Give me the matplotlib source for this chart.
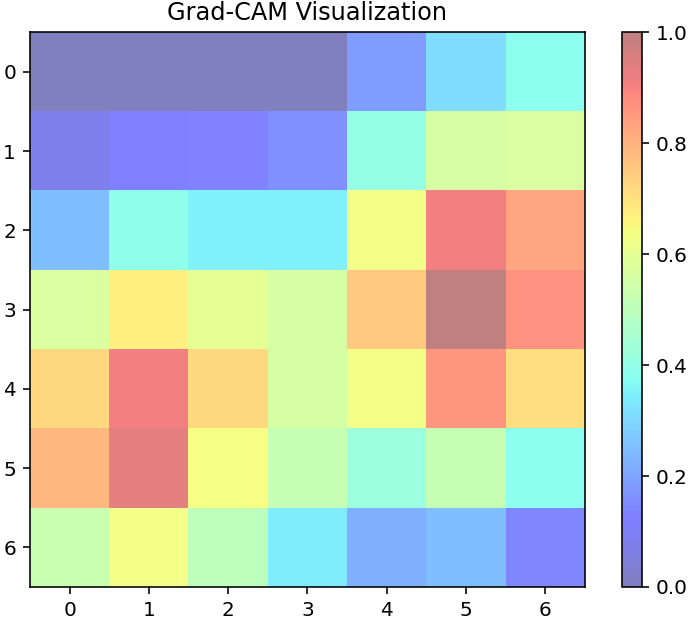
import numpy as np
import matplotlib
matplotlib.use("Agg")
import matplotlib.pyplot as plt

# heatmap values (rows 0..6, cols 0..6)
row0 = [0.00, 0.00, 0.00, 0.00, 0.18, 0.31, 0.38]
row1 = [0.08, 0.12, 0.13, 0.16, 0.40, 0.56, 0.57]
row2 = [0.25, 0.39, 0.35, 0.35, 0.63, 0.91, 0.83]
row3 = [0.57, 0.67, 0.60, 0.56, 0.75, 1.00, 0.87]
row4 = [0.72, 0.91, 0.72, 0.56, 0.63, 0.86, 0.71]
row5 = [0.79, 0.93, 0.64, 0.52, 0.42, 0.52, 0.38]
row6 = [0.53, 0.63, 0.50, 0.34, 0.22, 0.25, 0.14]

cam = np.array([row0, row1, row2, row3, row4, row5, row6])

dpi = 144
fig = plt.figure(figsize=(698 / dpi, 622 / dpi), dpi=dpi)
ax = fig.add_axes([0.043, 0.0563, 0.795, 0.892])
cax = fig.add_axes([0.891, 0.0563, 0.0287, 0.892])

im = ax.imshow(cam, cmap="jet", alpha=0.5, vmin=0, vmax=1)
ax.set_title("Grad-CAM Visualization")
ax.set_xticks(range(7))
ax.set_yticks(range(7))
fig.colorbar(im, cax=cax)

fig.savefig("out.png", dpi=dpi)
